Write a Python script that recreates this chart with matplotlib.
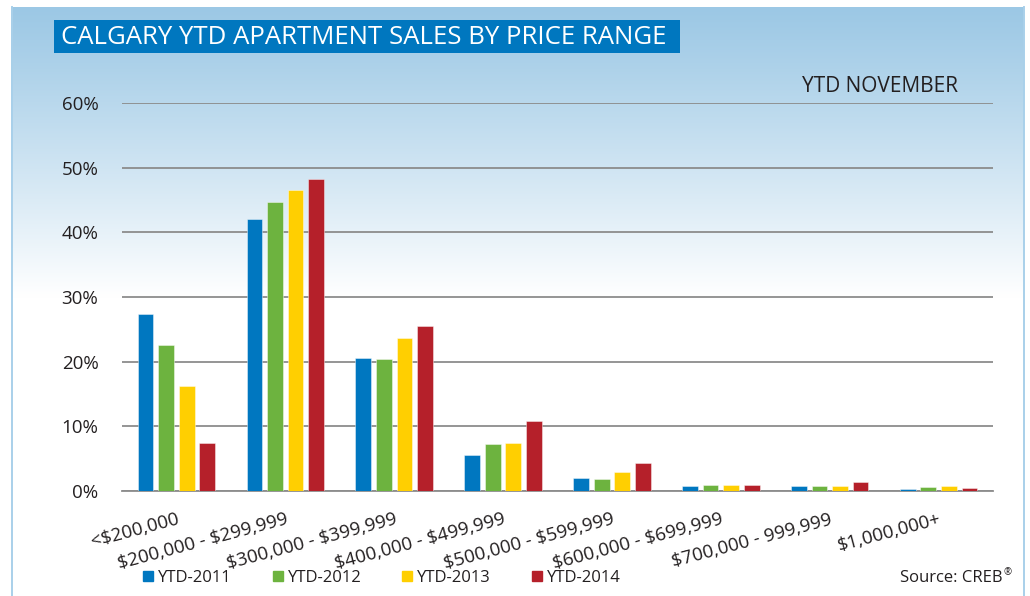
import matplotlib

matplotlib.use("Agg")
import matplotlib.pyplot as plt
import numpy as np
from matplotlib.patches import Patch, Rectangle

plt.rcParams["font.family"] = ["Open Sans", "DejaVu Sans"]
plt.rcParams["text.parse_math"] = False

# data (percent of YTD apartment sales)
price_ranges = [
    "<$200,000",
    "$200,000 - $299,999",
    "$300,000 - $399,999",
    "$400,000 - $499,999",
    "$500,000 - $599,999",
    "$600,000 - $699,999",
    "$700,000 - 999,999",
    "$1,000,000+",
]
ytd_2011 = [27.3, 42.1, 20.6, 5.6, 2.0, 0.7, 0.7, 0.3]
ytd_2012 = [22.6, 44.7, 20.4, 7.2, 1.9, 1.0, 0.7, 0.6]
ytd_2013 = [16.2, 46.5, 23.6, 7.4, 2.9, 0.9, 0.8, 0.8]
ytd_2014 = [7.4, 48.3, 25.5, 10.9, 4.4, 1.0, 1.4, 0.5]
series_labels = ["YTD-2011", "YTD-2012", "YTD-2013", "YTD-2014"]
y_ticks = [0, 10, 20, 30, 40, 50, 60]

COLORS = ["#0077C0", "#6DB33F", "#FFCF01", "#B5202A"]
TEXT = "#231F20"
W, H = 1030, 596

fig = plt.figure(figsize=(W / 100, H / 100), dpi=100)

# background panel with vertical gradient, in pixel coordinates
bg = fig.add_axes([0, 0, 1, 1], zorder=0)
bg.set_xlim(0, W)
bg.set_ylim(H, 0)
bg.axis("off")
top = np.array([0x9C, 0xC8, 0xE5]) / 255
rows = np.linspace(0, 1, 300)[:, None]
grad = top + (1 - top) * np.clip(rows / 0.99, 0, 1) ** 1.1
grad = np.repeat(grad[:, None, :], 2, axis=1)
bg.imshow(grad, extent=(11, 1024, 300, 7), aspect="auto", interpolation="bilinear")
bg.add_patch(Rectangle((11, 300), 1013, H - 300, color="white", lw=0))
bg.plot([11.5, 11.5], [7, H], color="#A9D0EA", lw=1.4)
bg.plot([1024, 1024], [7, H], color="#A9D0EA", lw=1.4)
bg.add_patch(Rectangle((54, 20), 626, 33, color="#0077BF", lw=0))
bg.text(61, 37, "CALGARY YTD APARTMENT SALES BY PRICE RANGE", color="white",
        fontsize=18.5, va="center", ha="left")
bg.text(958, 86, "YTD NOVEMBER", color=TEXT, fontsize=15, va="center", ha="right")
bg.text(1002, 578, "Source: CREB", color=TEXT, fontsize=12, va="center", ha="right")
bg.text(1003, 573, "\u00ae", color=TEXT, fontsize=7, va="center", ha="left")

ax = fig.add_axes([122 / W, 1 - 491 / H, 871 / W, 388 / H], zorder=1)
ax.patch.set_alpha(0)

x = np.arange(len(price_ranges))
step, width = 0.189, 0.145
for i, (vals, color, label) in enumerate(
    zip([ytd_2011, ytd_2012, ytd_2013, ytd_2014], COLORS, series_labels)
):
    ax.bar(x + (i - 1.5) * step, vals, width, color=color, label=label,
           edgecolor=(1, 1, 1, 0.5), linewidth=0.6, zorder=3)

ax.set_xlim(-0.5, len(price_ranges) - 0.5)
ax.set_ylim(0, 60)
ax.set_yticks(y_ticks)
ax.set_yticklabels([f"{t}%" for t in y_ticks], color=TEXT, fontsize=13.5)
ax.yaxis.grid(True, color="#8C8C8C", linewidth=1.3, zorder=1)
ax.set_axisbelow(True)
ax.tick_params(axis="y", length=0, pad=17)
ax.tick_params(axis="x", length=0, pad=14)
ax.set_xticks(x)
ax.set_xticklabels(price_ranges, rotation=15, ha="right", rotation_mode="anchor",
                   color=TEXT, fontsize=13.5)
for side in ["top", "right", "left"]:
    ax.spines[side].set_visible(False)
ax.spines["bottom"].set_color("#8C8C8C")
ax.spines["bottom"].set_linewidth(1.3)

handles = [Patch(color=c) for c in COLORS]
fig.legend(handles, series_labels, loc="center left", ncol=4, frameon=False,
           bbox_to_anchor=(135 / W, 1 - 578 / H), fontsize=12,
           handlelength=0.6, handleheight=0.6, handletextpad=0.3,
           columnspacing=2.45, borderpad=0, labelcolor=TEXT)

fig.savefig("out.png", dpi=100)
